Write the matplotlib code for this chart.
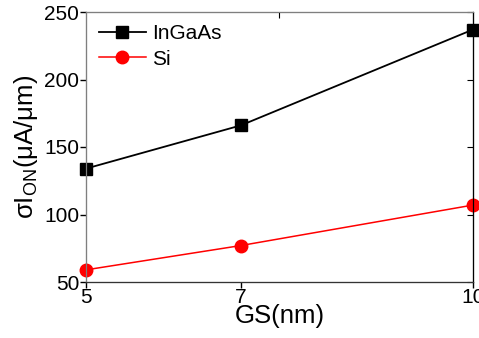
import matplotlib
matplotlib.use("Agg")
import matplotlib.pyplot as plt

# --- font setup: Arial-like look ---
plt.rcParams['font.family'] = ['Liberation Sans', 'DejaVu Sans']
plt.rcParams['mathtext.fontset'] = 'custom'
plt.rcParams['mathtext.rm'] = 'Liberation Sans'
plt.rcParams['mathtext.it'] = 'Liberation Sans:italic'

# --- data ---
gs_nm = [5, 7, 10]
ingaas = [134, 166, 237]
si = [59, 77, 107]
xtick_labels = ['5', '7', '10']
yticks = [50, 100, 150, 200, 250]

fig = plt.figure(figsize=(4.79, 3.38), dpi=100)
ax = fig.add_axes([86 / 479, 56 / 338, 387 / 479, 270 / 338])

ax.plot(gs_nm, ingaas, color='black', lw=1.3, marker='s', ms=8,
        label='InGaAs', clip_on=False, zorder=3)
ax.plot(gs_nm, si, color='red', lw=1.1, marker='o', ms=9,
        label='Si', clip_on=False, zorder=3)

ax.set_xlim(5, 10)
ax.set_ylim(50, 250)
ax.set_xticks(gs_nm)
ax.set_xticklabels(xtick_labels)
ax.set_yticks(yticks)

ax.tick_params(axis='both', labelsize=15, length=4, width=1, pad=1)
ax.tick_params(axis='y', direction='out', right=False, pad=1)
ax.tick_params(axis='x', direction='out', pad=0)

# inward ticks on the right spine drawn via a twin axis
ax2 = ax.twinx()
ax2.set_ylim(50, 250)
ax2.set_yticks(yticks)
ax2.tick_params(axis='y', direction='in', length=4, labelright=False)

ax3 = ax.twiny()
ax3.set_xlim(5, 10)
ax3.set_xticks([7.5])
ax3.tick_params(axis='x', direction='in', length=4, labeltop=False)

for a in (ax, ax2, ax3):
    a.spines['left'].set_color('#7f7f7f')
    a.spines['top'].set_color('#7f7f7f')
    a.spines['bottom'].set_color('#333333')
    a.spines['right'].set_color('black')

ax.set_xlabel('GS(nm)', fontsize=18.5, labelpad=-2)
ax.set_ylabel(r'σI$_{\mathrm{ON}}$(μA/μm)', fontsize=18.5, labelpad=3)

ax.legend(loc='upper left', frameon=False, fontsize=15,
          handlelength=2.3, handletextpad=0.25, labelspacing=0.3,
          borderaxespad=0.4, borderpad=0.2)

fig.savefig('out.png', dpi=100)
